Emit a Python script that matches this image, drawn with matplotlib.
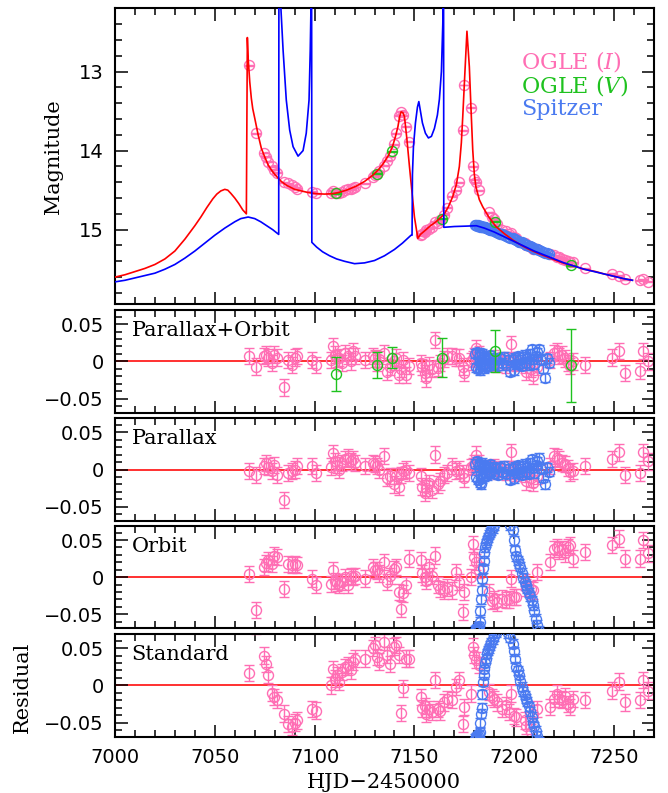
import matplotlib
matplotlib.use("Agg")
import matplotlib.pyplot as plt
from matplotlib.ticker import MultipleLocator
import numpy as np

plt.rcParams['mathtext.fontset'] = 'dejavuserif'

# ---------------- data ----------------
# OGLE I-band
ogle_t = [7066.9, 7070.7, 7074.5, 7075.5, 7076.7, 7078.4, 7079.7, 7081.0, 7084.5, 7086.6,
          7088.8, 7090.0, 7091.4, 7098.6, 7100.9, 7108.3, 7109.0, 7110.3, 7111.2, 7112.1,
          7113.8, 7115.2, 7116.9, 7118.1, 7119.0, 7120.3, 7125.0, 7129.0, 7130.2, 7131.0,
          7132.4, 7134.5, 7136.2, 7137.6, 7139.7, 7141.0, 7142.5, 7143.3, 7144.2, 7145.8,
          7147.2, 7153.1, 7154.0, 7155.2, 7156.0, 7157.2, 7158.6, 7160.3, 7161.7, 7162.9,
          7164.7, 7166.4, 7169.0, 7170.7, 7172.4, 7174.2, 7175.0, 7178.3, 7179.5, 7180.0,
          7180.8, 7182.2, 7187.1, 7188.8, 7189.7, 7191.4, 7194.0, 7195.7, 7197.4, 7198.6,
          7200.0, 7200.9, 7205.2, 7206.0, 7208.6, 7209.5, 7211.2, 7218.1, 7219.8, 7221.6,
          7222.4, 7224.1, 7225.5, 7226.7, 7227.9, 7229.3, 7235.3, 7249.1, 7252.6, 7255.5,
          7262.9, 7264.7, 7267.2]
ogle_mag = [12.92, 13.78, 14.03, 14.08, 14.14, 14.20, 14.24, 14.28, 14.40, 14.41,
            14.44, 14.46, 14.48, 14.52, 14.54, 14.54, 14.51, 14.53, 14.53, 14.53,
            14.52, 14.50, 14.49, 14.49, 14.47, 14.46, 14.41, 14.33, 14.31, 14.30,
            14.26, 14.19, 14.13, 14.07, 13.92, 13.78, 13.56, 13.51, 13.55, 13.70,
            13.89, 15.07, 15.05, 15.03, 15.01, 14.99, 14.97, 14.90, 14.91, 14.88,
            14.81, 14.72, 14.58, 14.50, 14.40, 13.74, 13.17, 13.46, 14.20, 14.36,
            14.40, 14.50, 14.78, 14.84, 14.87, 14.93, 15.00, 15.02, 15.05, 15.04,
            15.09, 15.10, 15.17, 15.19, 15.22, 15.24, 15.24, 15.31, 15.32, 15.34,
            15.35, 15.37, 15.38, 15.40, 15.41, 15.41, 15.49, 15.56, 15.58, 15.63,
            15.64, 15.63, 15.66]
res_po = [0.007, -0.007, 0.007, 0.009, 0.005, -0.002, 0.009, 0.005, -0.035, 0.002,
          -0.005, 0.005, 0.007, 0.002, -0.005, 0.002, 0.020, 0.009, 0.004, 0.005,
          -0.002, 0.011, 0.007, 0.000, 0.014, 0.007, 0.002, 0.007, 0.004, -0.002,
          0.003, 0.011, -0.014, -0.008, 0.000, 0.005, -0.018, -0.010, 0.002, -0.018,
          -0.006, -0.002, -0.008, -0.016, -0.023, -0.005, -0.010, 0.029, -0.009, -0.002,
          0.003, 0.007, 0.007, 0.005, 0.005, -0.007, -0.016, 0.000, 0.003, 0.007,
          0.018, 0.010, 0.003, -0.002, 0.004, -0.003, 0.002, -0.004, 0.000, 0.023,
          0.000, -0.002, -0.005, -0.014, -0.010, -0.020, -0.007, 0.002, 0.011, 0.014,
          0.007, 0.009, 0.004, -0.002, -0.006, 0.000, -0.005, 0.005, 0.014, -0.016,
          -0.013, 0.014, 0.000]
res_p = [-0.002, -0.007, 0.005, 0.009, 0.004, -0.002, 0.006, -0.007, -0.041, -0.005,
         -0.002, 0.000, 0.005, 0.005, -0.005, 0.004, 0.022, 0.011, 0.006, 0.000,
         0.009, 0.014, 0.016, 0.011, 0.014, 0.009, 0.005, 0.009, 0.007, 0.005,
         0.000, 0.018, -0.011, -0.009, -0.020, -0.009, -0.023, -0.007, -0.002, 0.000,
         -0.005, -0.009, -0.023, -0.032, -0.025, -0.018, -0.027, 0.020, -0.020, -0.016,
         -0.007, -0.005, 0.005, -0.002, 0.000, -0.005, -0.012, 0.003, 0.005, 0.008,
         0.020, 0.008, 0.002, 0.000, 0.003, -0.002, 0.001, -0.003, 0.001, 0.023,
         -0.002, -0.004, -0.006, -0.016, -0.012, -0.018, -0.009, 0.005, 0.018, 0.016,
         0.014, 0.009, 0.007, 0.002, -0.004, -0.002, 0.005, 0.014, 0.023, -0.007,
         -0.005, 0.023, 0.011]
res_o = [0.004, -0.044, 0.014, 0.019, 0.023, 0.018, 0.029, 0.027, -0.016, 0.018,
         0.016, 0.018, 0.016, -0.002, -0.011, -0.009, 0.009, -0.005, -0.008, -0.011,
         -0.007, 0.000, -0.011, 0.002, 0.000, 0.002, -0.002, 0.014, 0.010, 0.009,
         0.005, 0.020, -0.007, 0.002, 0.011, 0.014, -0.020, -0.043, -0.022, -0.011,
         0.025, 0.023, 0.005, 0.000, -0.005, 0.014, 0.002, 0.029, -0.011, -0.016,
         -0.018, -0.014, -0.018, 0.007, -0.007, -0.047, -0.020, 0.000, 0.045, 0.027,
         0.020, 0.010, -0.020, -0.032, -0.030, -0.034, -0.029, -0.031, -0.030, -0.002,
         -0.027, -0.027, -0.007, -0.014, -0.016, -0.018, 0.007, 0.020, 0.038, 0.041,
         0.036, 0.038, 0.032, 0.041, 0.043, 0.025, 0.034, 0.043, 0.052, 0.025,
         0.025, 0.050, 0.032]
res_s = [0.017, 0.080, 0.040, 0.029, 0.014, -0.010, -0.016, -0.020, -0.038, -0.052,
         -0.056, -0.050, -0.047, -0.032, -0.034, 0.000, 0.022, 0.009, 0.014, 0.005,
         0.018, 0.025, 0.027, 0.020, 0.032, 0.036, 0.036, 0.050, 0.054, 0.038,
         0.032, 0.058, 0.041, 0.029, 0.052, 0.054, 0.041, -0.037, -0.004, 0.036,
         0.036, -0.016, -0.031, -0.028, -0.038, -0.032, -0.036, 0.007, -0.032, -0.035,
         -0.023, -0.018, -0.020, -0.002, 0.007, -0.052, -0.029, -0.011, 0.052, 0.041,
         0.034, 0.027, -0.009, -0.016, -0.018, -0.023, -0.032, -0.027, -0.036, -0.011,
         -0.041, -0.043, -0.047, -0.054, -0.063, -0.038, -0.032, -0.029, -0.018, -0.011,
         -0.018, -0.020, -0.014, -0.025, -0.029, -0.018, -0.020, -0.007, 0.005, -0.023,
         -0.020, 0.007, -0.007]
ogle_err = 0.011

# OGLE V-band
oglev_t = [7110.7, 7131.4, 7138.8, 7163.8, 7190.5, 7228.4]
oglev_mag = [14.54, 14.29, 14.01, 14.86, 14.90, 15.45]
oglev_res = [-0.017, -0.005, 0.005, 0.005, 0.014, -0.005]
oglev_err = [0.023, 0.017, 0.014, 0.026, 0.028, 0.049]

# Spitzer
spz_t = [7180.5, 7181.0, 7181.5, 7182.0, 7182.3, 7182.6, 7183.0, 7183.3, 7183.6, 7184.0,
         7184.3, 7184.6, 7185.0, 7185.4, 7185.8, 7186.2, 7186.7, 7187.2, 7187.8, 7188.5,
         7189.2, 7190.0, 7191.0, 7192.0, 7193.0, 7194.0, 7195.0, 7196.0, 7197.0, 7198.0,
         7199.2, 7199.7, 7200.3, 7201.0, 7201.7, 7202.4, 7203.1, 7203.8, 7204.5, 7205.2,
         7205.9, 7206.6, 7207.3, 7208.0, 7208.7, 7209.4, 7210.1, 7210.8, 7211.5, 7212.3,
         7213.2, 7214.2, 7215.2, 7216.2, 7217.2]
spz_mag = [14.94, 14.94, 14.95, 14.94, 14.95, 14.95, 14.96, 14.95, 14.96, 14.96,
           14.97, 14.96, 14.97, 14.97, 14.98, 14.98, 14.99, 14.99, 15.00, 15.00,
           15.01, 15.02, 15.03, 15.04, 15.05, 15.06, 15.07, 15.08, 15.09, 15.10,
           15.11, 15.12, 15.12, 15.13, 15.14, 15.15, 15.16, 15.16, 15.17, 15.18,
           15.19, 15.20, 15.21, 15.21, 15.22, 15.23, 15.24, 15.24, 15.25, 15.26,
           15.27, 15.28, 15.29, 15.30, 15.31]
spz_po = [0.010, -0.008, 0.012, -0.010, 0.006, -0.012, 0.009, -0.004, 0.011, -0.006,
          0.003, -0.009, 0.007, -0.003, 0.005, -0.007, 0.004, -0.005, 0.008, -0.002,
          0.005, -0.004, 0.003, -0.006, 0.004, -0.002, 0.006, -0.005, 0.002, -0.014,
          0.003, -0.012, 0.005, -0.004, 0.007, -0.003, 0.002, -0.006, 0.006, 0.009,
          -0.002, 0.004, -0.005, 0.010, 0.016, 0.003, -0.004, 0.007, 0.012, 0.016,
          0.002, -0.010, -0.022, 0.004, -0.002]
spz_p = [0.008, -0.010, 0.011, -0.014, 0.004, -0.018, 0.007, -0.020, 0.009, -0.012,
         0.002, -0.010, 0.006, -0.004, 0.004, -0.008, 0.003, -0.006, 0.007, -0.003,
         0.004, -0.005, 0.002, -0.007, 0.003, -0.003, 0.005, -0.006, 0.001, -0.014,
         0.002, -0.012, 0.004, -0.005, 0.006, -0.004, 0.001, -0.007, 0.005, 0.008,
         -0.003, 0.003, -0.006, 0.009, 0.014, 0.002, -0.005, 0.006, 0.011, 0.016,
         0.001, -0.011, -0.020, 0.003, -0.003]
spz_o = [-0.072, -0.070, -0.069, -0.067, -0.066, -0.060, -0.045, -0.030, -0.018, -0.002,
         0.012, 0.022, 0.032, 0.040, 0.046, 0.050, 0.054, 0.057, 0.060, 0.063,
         0.066, 0.070, 0.076, 0.082, 0.086, 0.088, 0.087, 0.084, 0.078, 0.070,
         0.064, 0.050, 0.036, 0.028, 0.023, 0.018, 0.014, 0.006, -0.001, -0.006,
         -0.011, -0.016, -0.021, -0.026, -0.031, -0.038, -0.046, -0.056, -0.064, -0.072,
         -0.080, -0.088, -0.094, -0.100, -0.106]
spz_s = [-0.072, -0.070, -0.069, -0.068, -0.066, -0.063, -0.050, -0.038, -0.030, -0.012,
         0.005, 0.014, 0.022, 0.030, 0.036, 0.043, 0.047, 0.050, 0.054, 0.058,
         0.062, 0.066, 0.071, 0.078, 0.082, 0.084, 0.082, 0.078, 0.070, 0.064,
         0.056, 0.046, 0.036, 0.025, 0.020, 0.014, 0.006, -0.002, -0.008, -0.013,
         -0.018, -0.022, -0.028, -0.035, -0.042, -0.050, -0.055, -0.061, -0.068, -0.075,
         -0.082, -0.090, -0.097, -0.104, -0.110]
spz_err = 0.006

# model light curves (knots)
red_t = [7000, 7005, 7010, 7015, 7020, 7025, 7030, 7035, 7040, 7043, 7046, 7049, 7051,
         7053, 7055, 7056.5, 7058, 7060, 7062, 7064, 7065.8,
         7066.3, 7066.7, 7067.5, 7068.3, 7069, 7070, 7071.7, 7073.3, 7075, 7076.7, 7078.5,
         7080, 7083.3, 7086, 7090, 7096.7, 7101, 7105, 7109, 7112, 7116, 7120.8, 7125,
         7129.2, 7132, 7134.5, 7137, 7139, 7140.5, 7141.7, 7142.6, 7143.3, 7144.2, 7145,
         7146.2, 7147.5, 7150, 7151.7, 7153, 7155.8, 7158, 7160.8, 7163, 7165, 7167,
         7169.2, 7171, 7172.5, 7173.5, 7174.2, 7175.2, 7176.3, 7177.5, 7178.3, 7179.2,
         7180, 7180.8, 7182.5, 7184.2, 7187, 7190.8, 7195, 7199.2, 7203, 7207.5, 7212,
         7216, 7220, 7224.2, 7230, 7235, 7240.8, 7245, 7250, 7255, 7259.2]
red_mag = [15.60, 15.57, 15.53, 15.49, 15.44, 15.37, 15.27, 15.12, 14.95, 14.84, 14.72,
           14.61, 14.55, 14.51, 14.49, 14.50, 14.54, 14.60, 14.67, 14.75, 14.80,
           12.57, 12.83, 13.13, 13.34, 13.47, 13.59, 13.80, 13.97, 14.08, 14.18, 14.25,
           14.30, 14.39, 14.44, 14.49, 14.53, 14.545, 14.55, 14.545, 14.53, 14.50, 14.45,
           14.39, 14.31, 14.24, 14.16, 14.06, 13.95, 13.82, 13.70, 13.57, 13.51, 13.52,
           13.57, 13.85, 14.20, 14.84, 15.11, 15.06, 15.00, 14.95, 14.90, 14.85, 14.80,
           14.71, 14.58, 14.43, 14.20, 13.90, 13.57, 13.05, 12.49, 12.94, 13.45, 13.99,
           14.30, 14.46, 14.62, 14.71, 14.83, 14.96, 15.05, 15.13, 15.19, 15.25, 15.30,
           15.34, 15.38, 15.42, 15.46, 15.50, 15.53, 15.56, 15.59, 15.62, 15.64]
blue_t = [7000, 7005, 7010, 7015, 7020, 7025, 7030, 7035, 7040, 7045, 7050, 7055, 7060,
          7063, 7066.7, 7070, 7073, 7076, 7079, 7082.0,
          7082.1, 7082.9, 7084.2, 7085.8, 7087.5, 7089.2, 7091.7, 7094.2, 7095.8, 7097.2,
          7097.8, 7098.3, 7098.5, 7098.6, 7101, 7104, 7107.5, 7111, 7115, 7120, 7125, 7130,
          7135, 7140, 7144, 7148.3, 7148.8, 7149.0, 7149.5, 7150.5, 7151.5, 7152.2, 7153,
          7154, 7155.5, 7157, 7158.5, 7160, 7161.5, 7162.5, 7163.5, 7164.2, 7164.5, 7164.6,
          7164.7, 7170, 7176, 7181, 7185, 7190, 7195, 7200, 7205, 7210, 7215, 7220, 7225,
          7230, 7235, 7240, 7245, 7250, 7255, 7259.2]
blue_mag = [15.66, 15.64, 15.61, 15.58, 15.55, 15.50, 15.44, 15.36, 15.27, 15.17, 15.07,
            14.98, 14.90, 14.86, 14.84, 14.86, 14.90, 14.95, 15.00, 15.06,
            12.00, 12.10, 12.73, 13.36, 13.74, 13.95, 14.07, 14.00, 13.78, 13.36,
            12.73, 12.00, 12.00, 15.16, 15.22, 15.28, 15.33, 15.37, 15.40, 15.43, 15.42,
            15.39, 15.33, 15.25, 15.17, 15.07, 15.07, 14.30, 13.95, 13.65, 13.45, 13.38,
            13.50, 13.65, 13.78, 13.84, 13.82, 13.72, 13.55, 13.35, 13.00, 12.40, 12.00,
            12.00, 14.97, 14.96, 14.955, 14.95, 14.98, 15.03, 15.09, 15.15, 15.21, 15.27,
            15.32, 15.37, 15.42, 15.46, 15.50, 15.53, 15.56, 15.59, 15.62, 15.64]

# ---------------- style ----------------
PINK = '#ff6eb4'
GREEN = '#1fc21f'
SPZ = '#4a7af0'
W, H = 668, 793
fig = plt.figure(figsize=(W / 100, H / 100), dpi=100)

def rect(top, bottom):
    return [115 / W, 1 - bottom / H, 539 / W, (bottom - top) / H]

ax0 = fig.add_axes(rect(7.5, 304))
res_axes = [fig.add_axes(rect(310, 412.7)), fig.add_axes(rect(418.3, 520.7)),
            fig.add_axes(rect(526, 628.3)), fig.add_axes(rect(634, 736.7))]

serif = 'DejaVu Serif'

def style(ax):
    for s in ax.spines.values():
        s.set_linewidth(1.5)
    ax.tick_params(which='both', direction='in', top=True, right=True, width=1.1,
                   labelsize=14, pad=8)
    ax.tick_params(which='major', length=9)
    ax.tick_params(which='minor', length=5)
    ax.set_xlim(7000, 7270)
    ax.xaxis.set_major_locator(MultipleLocator(50))
    ax.xaxis.set_minor_locator(MultipleLocator(10))

mk = dict(marker='o', ms=7.2, mfc='none', mew=1.0, ls='none', capsize=3.6, elinewidth=1.0,
          capthick=1.0)

# top panel
style(ax0)
ax0.set_ylim(15.94, 12.19)
ax0.yaxis.set_minor_locator(MultipleLocator(0.2))
ax0.set_yticks([13, 14, 15])
ax0.set_yticklabels(['13', '14', '15'], family='DejaVu Sans')
ax0.tick_params(labelbottom=False)
ax0.errorbar(ogle_t, ogle_mag, yerr=0.006, color=PINK, mec=PINK, zorder=2, **mk)
ax0.errorbar(spz_t, spz_mag, yerr=0.006, color=SPZ, mec=SPZ, zorder=3, **mk)
ax0.errorbar(oglev_t, oglev_mag, yerr=0.006, color=GREEN, mec=GREEN, zorder=4, **mk)
ax0.plot(red_t, red_mag, color='red', lw=1.2, zorder=5)
ax0.plot(blue_t, blue_mag, color='blue', lw=1.2, zorder=5)
ax0.text(0.754, 0.794, r'OGLE ($I$)', transform=ax0.transAxes, color=PINK,
         fontsize=16, family=serif, va='baseline')
ax0.text(0.754, 0.715, r'OGLE ($V$)', transform=ax0.transAxes, color=GREEN,
         fontsize=16, family=serif, va='baseline')
ax0.text(0.754, 0.636, 'Spitzer', transform=ax0.transAxes, color=SPZ,
         fontsize=16, family=serif, va='baseline')

# residual panels
panel_names = ['Parallax+Orbit', 'Parallax', 'Orbit', 'Standard']
ogle_res = [res_po, res_p, res_o, res_s]
spz_res = [spz_po, spz_p, spz_o, spz_s]
for i, ax in enumerate(res_axes):
    style(ax)
    ax.set_ylim(-0.069, 0.069)
    ax.yaxis.set_minor_locator(MultipleLocator(0.01))
    ax.set_yticks([-0.05, 0, 0.05])
    ax.set_yticklabels(['\u22120.05', '0', '0.05'], family='DejaVu Sans')
    if i < 3:
        ax.tick_params(labelbottom=False)
    else:
        ax.set_xticks([7000, 7050, 7100, 7150, 7200, 7250])
        ax.set_xticklabels(['7000', '7050', '7100', '7150', '7200', '7250'],
                           family='DejaVu Sans')
    ax.axhline(0, color='#ff2020', lw=1.3, zorder=1)
    ax.errorbar(ogle_t, ogle_res[i], yerr=ogle_err, color=PINK, mec=PINK, zorder=2, **mk)
    if i == 0:
        ax.errorbar(oglev_t, oglev_res, yerr=oglev_err, color=GREEN, mec=GREEN,
                    zorder=4, **mk)
    ax.errorbar(spz_t, spz_res[i], yerr=spz_err, color=SPZ, mec=SPZ, zorder=3, **mk)
    ax.text(0.031, 0.745, panel_names[i], transform=ax.transAxes, fontsize=15,
            family=serif, va='baseline', zorder=6)

fig.text(53 / W, 1 - 157 / H, 'Magnitude', rotation=90, ha='center', va='center',
         fontsize=15, family=serif)
fig.text(22 / W, 1 - 687 / H, 'Residual', rotation=90, ha='center', va='center',
         fontsize=15, family=serif)
fig.text(384 / W, 1 - 782 / H, 'HJD\u22122450000', ha='center', va='center',
         fontsize=15, family=serif)

fig.savefig('out.png', dpi=100)
